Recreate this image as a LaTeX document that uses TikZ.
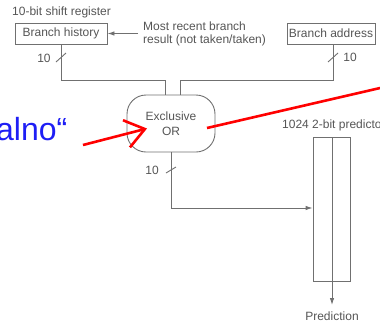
\documentclass[tikz,border=0pt]{standalone}
\usepackage{fontspec}
\setmainfont{Liberation Sans}
\usetikzlibrary{arrows.meta}
\definecolor{wiregray}{HTML}{707070}
\definecolor{textgray}{HTML}{555555}
\definecolor{noteblue}{RGB}{30,30,245}

\begin{document}
\begin{tikzpicture}[x=1pt, y=-1pt,
    wire/.style={draw=wiregray, line width=0.9pt},
    tip/.style={-{Latex[length=7pt, width=4.5pt]}},
    box/.style={draw=wiregray, line width=0.9pt, inner sep=0pt, text=textgray,
        font=\fontsize{12}{14}\selectfont},
    txt/.style={text=textgray, inner sep=0pt, font=\fontsize{12}{14}\selectfont},
    bus/.style={draw=wiregray, line width=0.9pt},
    marker/.style={draw=red, line width=2.6pt}]
    \useasboundingbox (0,0) rectangle (380,322);

    % registers
    \node[txt, anchor=west] (title) at (12,12) {10-bit shift register};
    \node[box, minimum width=92pt, minimum height=21pt] (hist) at (61,33.5) {Branch history};
    \node[box, minimum width=88pt, minimum height=21pt] (addr) at (331,33.5) {Branch address};
    \node[txt, anchor=west, align=left, font=\fontsize{12}{13}\selectfont] (recent) at (143,33.5)
        {Most recent branch\\result (not taken/taken)};
    \coordinate (rin) at (138,33.5);
    \draw[wire, tip] (rin) -- (hist.east);

    % xor
    \node[box, rounded corners=19pt, minimum width=88pt, minimum height=57pt, align=center,
        font=\fontsize{12}{15}\selectfont] (xor) at (171,123.5) {Exclusive\\OR};
    \coordinate (h1) at (61,44);
    \coordinate (a1) at (333,44);
    \draw[wire] (h1) -- (61,80) -- (165,80) -- (165,95);
    \draw[wire] (a1) -- (333,80) -- (180,80) -- (180,95);

    % predictor table
    \node[txt, anchor=west] (ptitle) at (282,125) {1024 2-bit predictors};
    \node[box, minimum width=37pt, minimum height=144pt] (pred) at (331.5,209) {};
    \coordinate (pt) at (332,137);
    \coordinate (pb) at (332,305);
    \draw[wire, tip] (pt) -- (pb);
    \node[txt] (prediction) at (332,316) {Prediction};
    \coordinate (x1) at (171,152);
    \draw[wire, tip] (x1) -- (171,208) -- (pred.west |- 0,208);

    % bus widths
    \draw[bus] (56,62) -- (66,53);
    \node[txt] (w1) at (44,58) {10};
    \draw[bus] (328,62) -- (338,53);
    \node[txt] (w2) at (350,57) {10};
    \draw[bus] (166,173) -- (176,167);
    \node[txt] (w3) at (152,170) {10};

    % annotation
    \node[anchor=base west, inner sep=0pt, text=noteblue,
        font=\fontsize{32}{38}\selectfont] (note) at (-4,140) {alno“};
    \coordinate (m1) at (83,145);
    \coordinate (m2) at (147,128.5);
    \coordinate (m3) at (207,128);
    \coordinate (m4) at (400,83.4);
    \draw[marker, -{Straight Barb[length=19pt, width=28pt]}] (m1) -- (m2);
    \draw[marker] (m3) -- (m4);
\end{tikzpicture}
\end{document}
